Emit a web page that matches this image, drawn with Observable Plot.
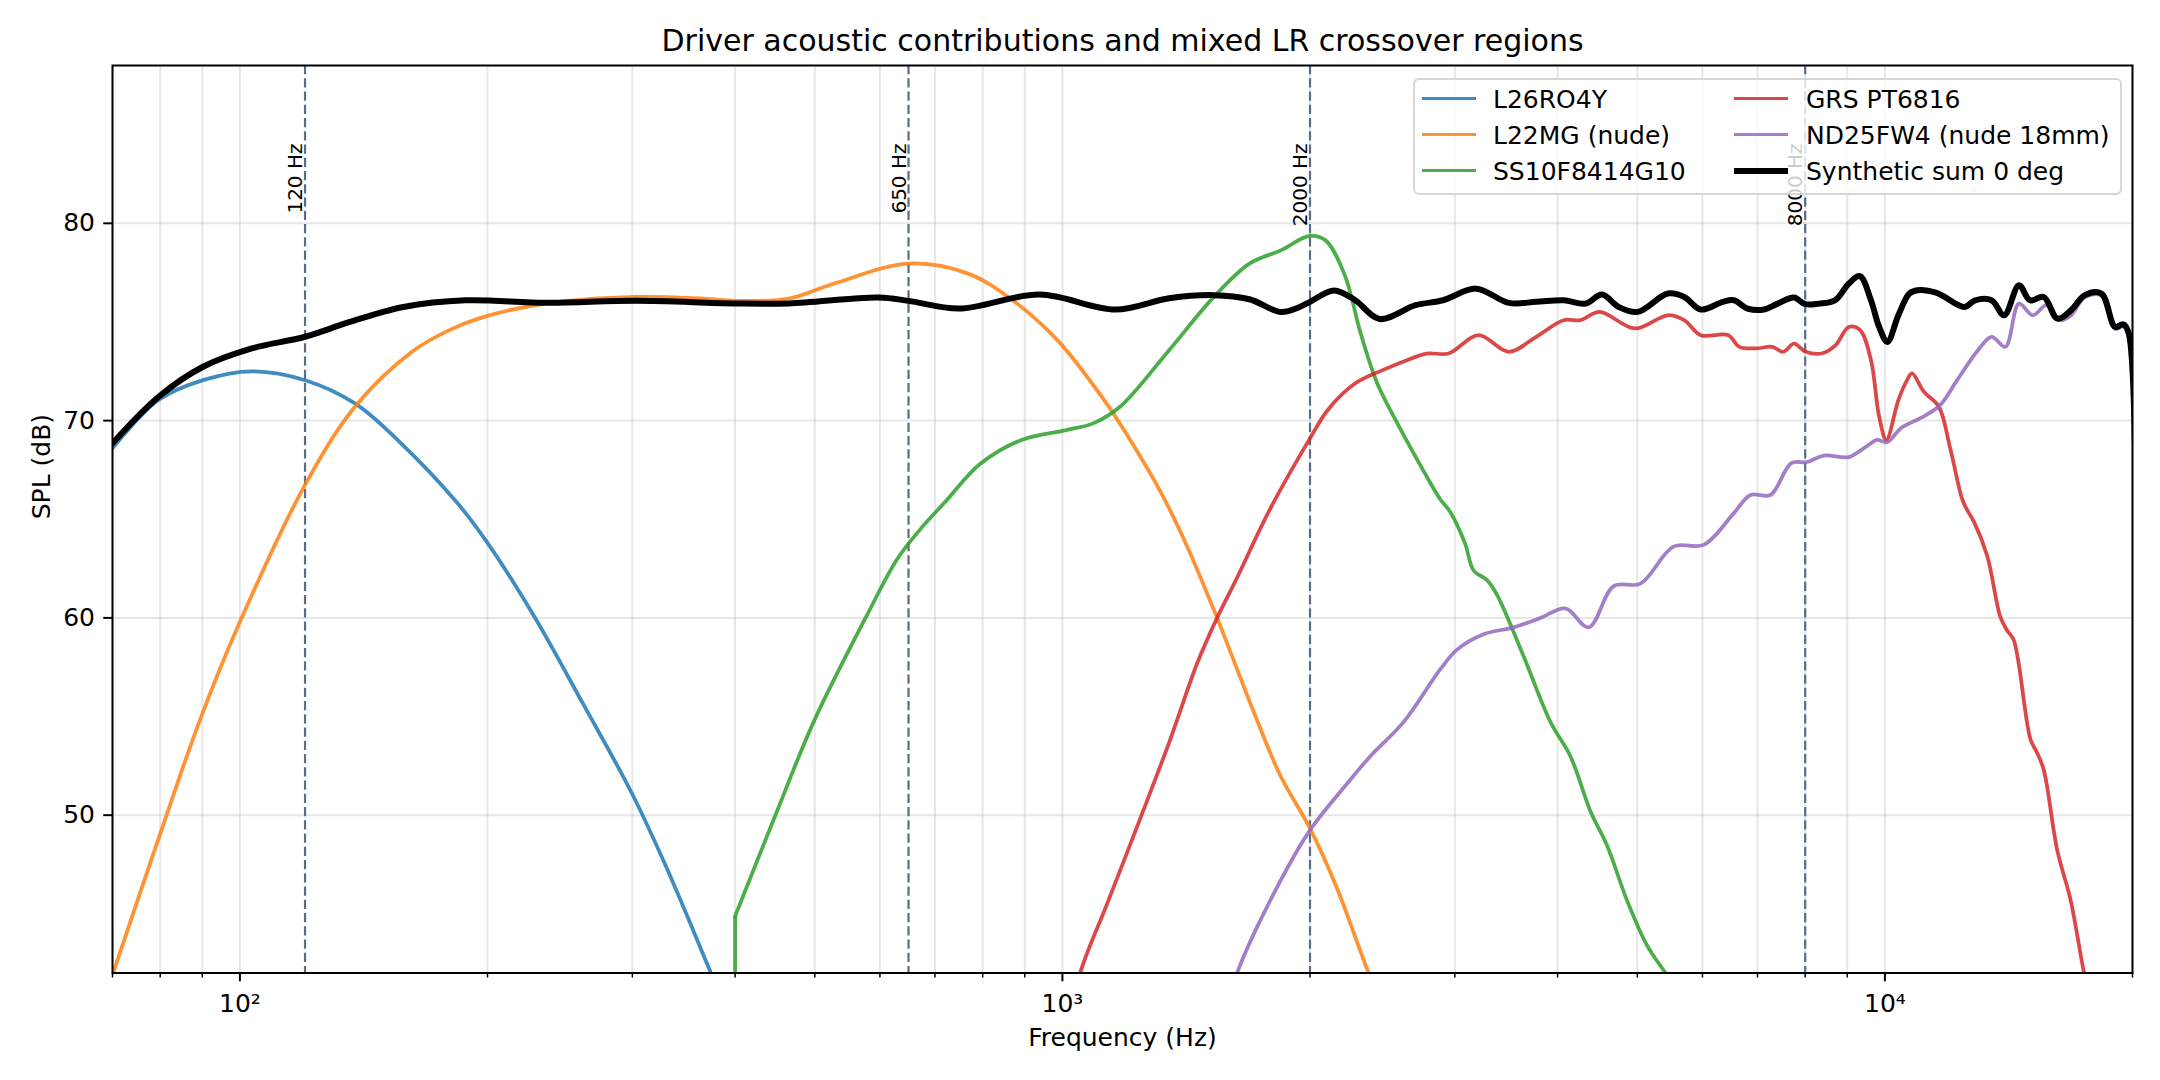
<!DOCTYPE html>
<html>
<head>
<meta charset="utf-8">
<script src="https://cdn.jsdelivr.net/npm/d3@7"></script>
<script src="https://cdn.jsdelivr.net/npm/@observablehq/plot@0.6"></script>
<style>
  html, body { margin: 0; padding: 0; background: #ffffff; }
  #wrap { position: relative; width: 2160px; height: 1080px; font-family: "DejaVu Sans", sans-serif; }
  #wrap svg { display: block; }
  #legend { position: absolute; left: 1413px; top: 78px; width: 709px; height: 117px; box-sizing: border-box;
            background: rgba(255,255,255,0.8); border: 2px solid rgba(204,204,204,0.8); border-radius: 6px; }
  .item { position: absolute; left: 0; top: 0; }
  .item .sw { position: absolute; height: 0; border-top-style: solid; }
  .item .lb { position: absolute; white-space: nowrap; font-size: 25px; line-height: 25px; color: #000; transform: translateY(-50%); }
</style>
</head>
<body>
<div id="wrap"><div id="legend"></div></div>
<script>
// ---- Data ----
const chartTitle = "Driver acoustic contributions and mixed LR crossover regions";
const xLabel = "Frequency (Hz)";
const yLabel = "SPL (dB)";

const majorTicks = [100, 1000, 10000];
const minorTicks = [70, 80, 90, 200, 300, 400, 500, 600, 700, 800, 900,
                    2000, 3000, 4000, 5000, 6000, 7000, 8000, 9000, 20000];
const yTicks = [50, 60, 70, 80];
const crossovers = [120, 650, 2000, 8000];

const seriesNames = ["L26RO4Y", "L22MG (nude)", "SS10F8414G10", "GRS PT6816", "ND25FW4 (nude 18mm)"];
const seriesColors = ["#1f77b4", "#ff7f0e", "#2ca02c", "#d62728", "#9467bd"];
const sumName = "Synthetic sum 0 deg";

const l26Freq = [70, 79.6, 90.2, 103.4, 120, 138, 157, 183.6, 200, 227.5, 261.7, 299.7, 330.5, 373, 410];
const l26Db   = [68.6, 71.04, 72.05, 72.5, 72.05, 70.87, 68.85, 65.85, 63.8, 60.13, 55.6, 51.1, 47.3, 42.1, 38.0];

const l22Freq = [70, 80, 89.5, 100, 120, 138, 162, 180, 198, 236, 303, 363, 402, 465, 528, 650, 768, 870, 986,
                 1117, 1209, 1316, 1418, 1542, 1708, 1841, 2000, 2157, 2357, 2500];
const l22Db   = [41.9, 49.06, 54.87, 59.8, 66.74, 70.7, 73.5, 74.6, 75.26, 75.94, 76.27, 76.19, 76.07, 76.19, 76.95,
                 77.96, 77.45, 76.1, 74.08, 71.2, 69.02, 66.4, 63.62, 60.0, 55.25, 52.0, 49.33, 46.3, 42.0, 39.5];

const ss10Freq = [400, 400, 449.8, 498.4, 578.5, 629, 672, 721, 794, 892, 1011, 1090, 1175, 1348, 1528, 1688, 1843,
                  1998, 2088, 2201, 2305, 2414, 2567, 2748, 2881, 2963, 3086, 3163, 3281, 3376, 3638, 3920,
                  4146, 4385, 4594, 4859, 5138, 5409, 5700];
const ss10Db   = [30, 44.88, 50.2, 54.73, 60.13, 62.95, 64.5, 65.9, 67.8, 69.02, 69.52, 69.86, 70.7, 73.57, 76.27,
                  77.96, 78.63, 79.36, 79.14, 77.45, 74.42, 71.89, 69.69, 67.45, 66.0, 65.36, 63.79, 62.39,
                  61.93, 61.17, 58.04, 54.73, 52.99, 50.2, 48.46, 45.67, 43.4, 42.0, 40.5];

const grsFreq = [1000, 1051, 1133, 1244, 1353, 1458, 1542, 1631, 1789, 2000, 2102, 2270, 2451, 2600,
                 2772, 2947, 3206, 3489, 3768, 4068, 4261, 4498, 4966, 5445, 5702, 5970, 6450, 6650, 6967,
                 7296, 7522, 7755, 8000, 8373, 8700, 9040, 9324, 9617, 9840, 10040, 10384, 10640, 10790,
                 11150, 11630, 12010, 12410, 12590, 12825, 13315, 13815, 14075, 14340, 15030, 15310, 15600,
                 16200, 16815, 17450, 18000];
const grsDb   = [38, 42.0, 45.49, 49.85, 53.86, 57.69, 60.0, 62.05, 65.53, 69.1, 70.54, 71.89, 72.56,
                 73.0, 73.4, 73.4, 74.33, 73.49, 74.25, 75.09, 75.09, 75.51, 74.67, 75.34, 75.09, 74.33, 74.33,
                 73.74, 73.66, 73.74, 73.49, 73.9, 73.5, 73.4, 73.8, 74.75, 74.6, 73.07, 70.2, 69.02, 71.04,
                 72.05, 72.39, 71.47, 70.7, 68.57, 66.05, 65.47, 64.89, 63.15, 60.05, 59.37, 58.89, 53.85,
                 53.17, 52.3, 48.23, 45.71, 42.07, 39.5];

const ndFreq = [1550, 1631, 1789, 2000, 2218, 2368, 2600, 2881, 3019, 3252, 3537, 3812, 4088, 4363, 4680,
                5044, 5532, 6020, 6552, 6864, 7258, 7695, 8044, 8426, 9040, 9480, 9785, 10060, 10475, 11150,
                11680, 12240, 12975, 13480, 14010, 14555, 15125, 15720, 16330, 16845, 17500, 18330, 19045,
                19490, 19790, 20000];
const ndDb   = [38.5, 42.0, 45.67, 49.24, 51.59, 52.99, 54.73, 57.4, 58.39, 59.17, 59.52, 59.99, 60.48, 59.52,
                61.61, 61.74, 63.61, 63.7, 65.31, 66.23, 66.23, 67.84, 67.9, 68.23, 68.15, 68.67, 69.02, 68.9,
                69.64, 70.21, 70.8, 72.05, 73.57, 74.25, 73.74, 75.93, 75.34, 75.85, 75.09, 75.34, 76.26,
                76.34, 74.65, 74.78, 74.32, 30];

const sumFreq = [70, 79.6, 90.2, 103.4, 120, 136, 158, 188, 236, 303, 399, 465, 598, 650, 749, 938, 1160,
                 1348, 1528, 1688, 1843, 1943, 2000, 2140, 2270, 2430, 2688, 2902, 3183, 3489, 3768, 4068,
                 4325, 4530, 4746, 5006, 5445, 5702, 5970, 6353, 6552, 6808, 7130, 7405, 7755, 8000, 8310,
                 8700, 9040, 9324, 9617, 9840, 10070, 10384, 10710, 10955, 11560, 12490, 12875, 13480,
                 13965, 14555, 15010, 15600, 16210, 16845, 17500, 18330, 19045, 19490, 19790, 20000];
const sumDb   = [68.85, 71.2, 72.73, 73.66, 74.25, 75.0, 75.76, 76.1, 75.97, 76.07, 75.94, 75.94, 76.24,
                 76.07, 75.68, 76.39, 75.63, 76.2, 76.36, 76.15, 75.51, 75.76, 76.02, 76.6, 76.1, 75.15,
                 75.85, 76.1, 76.69, 75.97, 76.02, 76.1, 75.93, 76.39, 75.76, 75.51, 76.44, 76.27, 75.63,
                 76.02, 76.1, 75.68, 75.63, 75.93, 76.24, 75.9, 75.93, 76.1, 76.95, 77.32, 76.1, 74.75,
                 73.99, 75.34, 76.44, 76.61, 76.47, 75.76, 76.1, 76.1, 75.34, 76.86, 76.1, 76.27, 75.17,
                 75.6, 76.36, 76.44, 74.75, 74.88, 74.42, 30];

// ---- Build tables ----
// Points sharing one frequency form a vertical jump: drawn straight, the rest as smooth curves.
const driverFreqs = [l26Freq, l22Freq, ss10Freq, grsFreq, ndFreq];
const driverDbs = [l26Db, l22Db, ss10Db, grsDb, ndDb];
const curveRows = [];
const jumpRows = [];
seriesNames.forEach((name, k) => {
  const F = driverFreqs[k], D = driverDbs[k];
  let seg = 0;
  F.forEach((f, i) => {
    if (i + 1 < F.length && F[i + 1] === f) {
      jumpRows.push({series: name, seg: `${name}-j${i}`, f, db: D[i]});
      jumpRows.push({series: name, seg: `${name}-j${i}`, f, db: D[i + 1]});
      seg++;
      return;
    }
    curveRows.push({series: name, seg: `${name}-${seg}`, f, db: D[i]});
  });
});
const sumRows = sumFreq.map((f, i) => ({f, db: sumDb[i]}));

const sup = {2: "\u00b2", 3: "\u00b3", 4: "\u2074"};
const gridStyle = {stroke: "#b0b0b0", strokeOpacity: 0.3, strokeWidth: 2};
const driverStyle = {x: "f", y: "db", z: "seg", stroke: "series", strokeWidth: 3.75, strokeOpacity: 0.85, clip: true};

const chart = Plot.plot({
  width: 2160,
  height: 1080,
  marginLeft: 112,
  marginRight: 28,
  marginTop: 65,
  marginBottom: 107.5,
  style: {fontFamily: "'DejaVu Sans', sans-serif", fontSize: "25px", color: "black", background: "white"},
  x: {type: "log", domain: [70, 20000], label: null},
  y: {domain: [42, 88], label: null},
  color: {domain: seriesNames, range: seriesColors},
  marks: [
    Plot.gridX([...majorTicks, ...minorTicks], gridStyle),
    Plot.gridY(yTicks, gridStyle),
    Plot.ruleX(crossovers, {stroke: "#5c6d80", strokeWidth: 2.2, strokeDasharray: "9.25,4"}),
    Plot.text(crossovers, {x: d => d, text: d => `${d} Hz`, frameAnchor: "top", dy: 78, dx: -3,
      rotate: -90, textAnchor: "end", lineAnchor: "bottom", fontSize: 20, fill: "black"}),
    Plot.line(curveRows, {...driverStyle, curve: "catmull-rom"}),
    Plot.line(jumpRows, {...driverStyle, curve: "linear", strokeLinecap: "butt"}),
    Plot.line(sumRows, {x: "f", y: "db", stroke: "black", strokeWidth: 6, curve: "catmull-rom", clip: true}),
    Plot.axisX(majorTicks, {anchor: "bottom", tickSize: 8.75, tickPadding: 12, strokeWidth: 2, fontSize: 25,
      tickFormat: d => "10" + sup[Math.round(Math.log10(d))], label: null}),
    Plot.axisX(minorTicks, {anchor: "bottom", tickSize: 5, strokeWidth: 1.5, tickFormat: () => "", label: null}),
    Plot.axisY(yTicks, {anchor: "left", tickSize: 8.75, tickPadding: 8.75, strokeWidth: 2, fontSize: 25, label: null}),
    Plot.text([xLabel], {text: d => d, frameAnchor: "bottom", dy: 64.5, lineAnchor: "middle", fontSize: 25, fill: "black"}),
    Plot.text([yLabel], {text: d => d, frameAnchor: "left", dx: -70.6, rotate: -90, lineAnchor: "middle", fontSize: 25, fill: "black"}),
    Plot.text([chartTitle], {text: d => d, frameAnchor: "top", dy: -24.6, lineAnchor: "middle", fontSize: 30, fill: "black"}),
    Plot.frame({stroke: "black", strokeWidth: 2})
  ]
});

const wrap = document.getElementById("wrap");
wrap.insertBefore(chart, wrap.firstChild);

// ---- Legend overlay (inside the axes, upper right) ----
const legend = document.getElementById("legend");
const entries = seriesNames.map((n, i) => ({name: n, color: seriesColors[i], width: 3.75, opacity: 0.85}))
  .concat([{name: sumName, color: "#000000", width: 6, opacity: 1}]);
entries.forEach((e, i) => {
  const col = i < 3 ? 0 : 1, row = i % 3;
  const cy = 19 + 36 * row;
  const swLeft = col === 0 ? 7 : 319;
  const lbLeft = col === 0 ? 78 : 391;
  const item = document.createElement("div");
  item.className = "item";
  const sw = document.createElement("div");
  sw.className = "sw";
  sw.style.left = swLeft + "px";
  sw.style.width = "54px";
  sw.style.top = (cy - e.width / 2) + "px";
  sw.style.borderTopWidth = e.width + "px";
  sw.style.borderTopColor = e.color;
  sw.style.opacity = e.opacity;
  const lb = document.createElement("div");
  lb.className = "lb";
  lb.style.left = lbLeft + "px";
  lb.style.top = cy + "px";
  lb.textContent = e.name;
  item.appendChild(sw);
  item.appendChild(lb);
  legend.appendChild(item);
});
</script>
</body>
</html>
